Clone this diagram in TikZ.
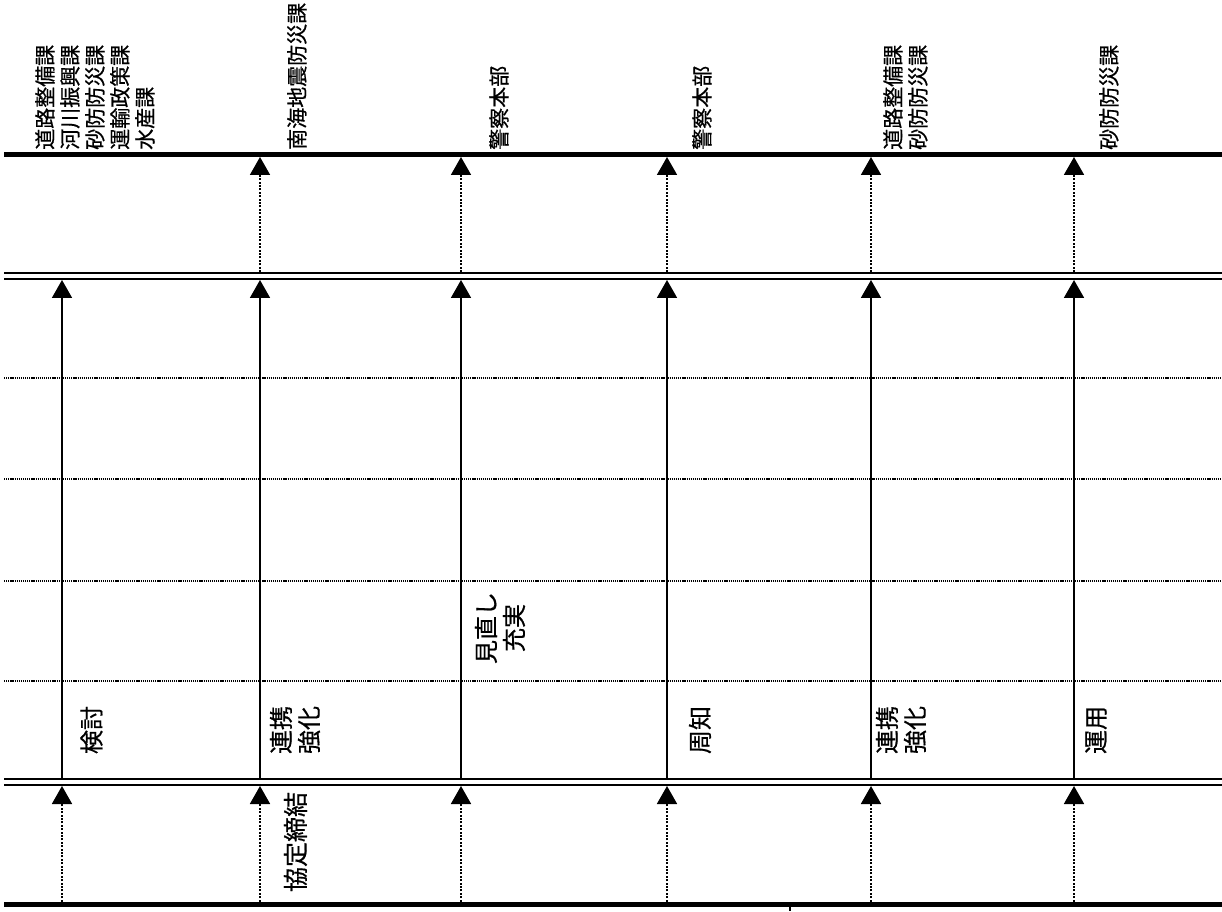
\documentclass[tikz,border=0pt]{standalone}
\usepackage{fontspec}
\newfontfamily\cjk[FakeBold=0.6]{Noto Sans CJK JP}
\usetikzlibrary{arrows.meta}
\begin{document}
\begin{tikzpicture}[x=1pt,y=1pt,
  thickline/.style={line width=5pt},
  dblline/.style={line width=2.8pt},
  dotline/.style={line width=1.8pt,dash pattern=on 1.2pt off 0.9pt},
  solidarrow/.style={line width=1.8pt,-{Triangle[width=20pt,length=18pt]}},
  dotarrow/.style={line width=1.8pt,dash pattern=on 2pt off 1.4pt,-{Triangle[width=20pt,length=18pt]}},
  toplabel/.style={rotate=90,anchor=north west,inner sep=0pt,align=left,font=\cjk\fontsize{21}{25}\selectfont},
  midlabel/.style={rotate=90,anchor=center,inner sep=0pt,align=center,font=\cjk\fontsize{24}{28}\selectfont},
  lowlabel/.style={rotate=90,anchor=center,inner sep=0pt,align=center,font=\cjk\fontsize{25}{29}\selectfont}]
\useasboundingbox (0,0) rectangle (1222,911);
% horizontal lines
\coordinate (tl) at (4,756.5); \coordinate (tr) at (1222,756.5);
\coordinate (u1l) at (4,638); \coordinate (u1r) at (1222,638);
\coordinate (u2l) at (4,632); \coordinate (u2r) at (1222,632);
\coordinate (d1l) at (4,533); \coordinate (d1r) at (1222,533);
\coordinate (d2l) at (4,432); \coordinate (d2r) at (1222,432);
\coordinate (d3l) at (4,330); \coordinate (d3r) at (1222,330);
\coordinate (d4l) at (4,230); \coordinate (d4r) at (1222,230);
\coordinate (l1l) at (4,132); \coordinate (l1r) at (1222,132);
\coordinate (l2l) at (4,126); \coordinate (l2r) at (1222,126);
\coordinate (bl) at (4,7); \coordinate (br) at (1222,7);
\draw[thickline] (tl) -- (tr);
\draw[dblline] (u1l) -- (u1r);
\draw[dblline] (u2l) -- (u2r);
\draw[dotline] (d1l) -- (d1r);
\draw[dotline] (d2l) -- (d2r);
\draw[dotline] (d3l) -- (d3r);
\draw[dotline] (d4l) -- (d4r);
\draw[dblline] (l1l) -- (l1r);
\draw[dblline] (l2l) -- (l2r);
\draw[thickline] (bl) -- (br);
% columns
\foreach \i/\x in {1/62,2/260,3/461,4/667,5/871,6/1074}{
  \coordinate (b\i) at (\x,9.5);
  \coordinate (lt\i) at (\x,125);
  \coordinate (ls\i) at (\x,133);
  \coordinate (ut\i) at (\x,631);
  \coordinate (us\i) at (\x,639);
  \coordinate (tt\i) at (\x,754);
  \draw[dotarrow] (b\i) -- (lt\i);
  \draw[solidarrow] (ls\i) -- (ut\i);
}
\foreach \i in {2,3,4,5,6}{
  \draw[dotarrow] (us\i) -- (tt\i);
}
% fragment below bottom line
\coordinate (fa) at (790,0); \coordinate (fb) at (790,5);
\draw[line width=1.5pt] (fa) -- (fb);
% top labels
\node[toplabel] (t1) at (35,761) {道路整備課\\河川振興課\\砂防防災課\\運輸政策課\\水産課};
\node[toplabel] (t2) at (287,761) {南海地震防災課};
\node[toplabel] (t3) at (489,761) {警察本部};
\node[toplabel] (t4) at (692,761) {警察本部};
\node[toplabel] (t5) at (883,761) {道路整備課\\砂防防災課};
\node[toplabel] (t6) at (1099,761) {砂防防災課};
% middle labels
\node[midlabel] (m1) at (91.5,181) {検討};
\node[midlabel] (m2) at (295,181) {連携\\強化};
\node[midlabel] (m3) at (500,283) {見直し\\充実};
\node[midlabel] (m4) at (700,181) {周知};
\node[midlabel] (m5) at (901,181) {連携\\強化};
\node[midlabel] (m6) at (1096,181) {運用};
% lower label
\node[lowlabel] (k1) at (295.5,69) {協定締結};
\end{tikzpicture}
\end{document}
